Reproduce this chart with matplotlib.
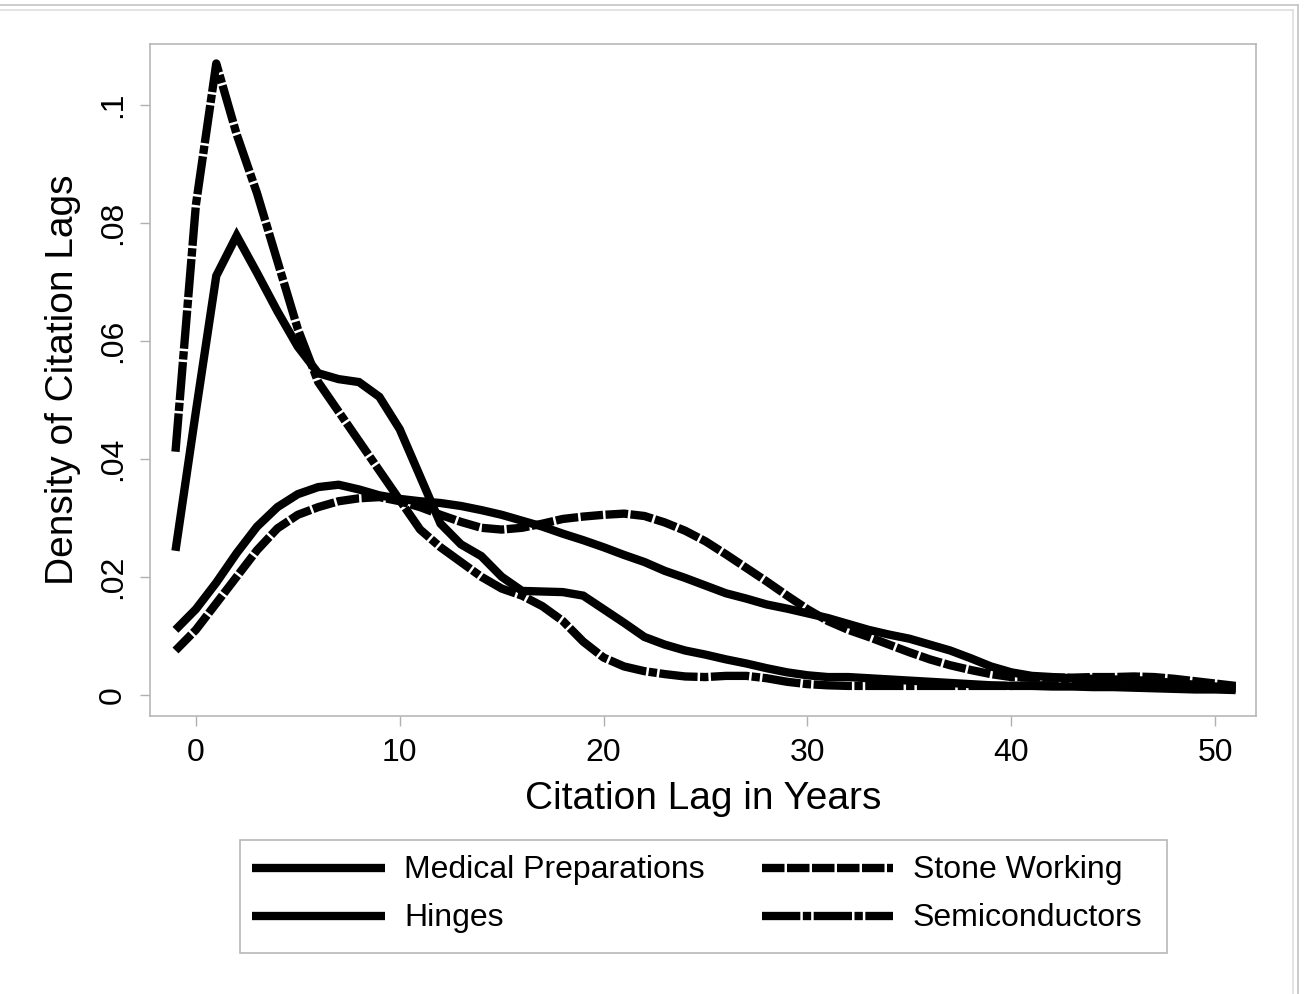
import matplotlib
matplotlib.use("Agg")
import matplotlib.pyplot as plt
from matplotlib.lines import Line2D
from matplotlib.patches import Rectangle

plt.rcParams['font.family'] = ['Liberation Sans', 'DejaVu Sans']

lags = list(range(-1, 52))

medical = [0.0244, 0.048, 0.071, 0.0778, 0.0715, 0.065, 0.059, 0.0545, 0.0535, 0.053,
           0.0505, 0.045, 0.037, 0.029, 0.0255, 0.0235, 0.020, 0.0176, 0.0175, 0.0174,
           0.0168, 0.0145, 0.0122, 0.0098, 0.0085, 0.0075, 0.0068, 0.006, 0.0053, 0.0045,
           0.0038, 0.0033, 0.003, 0.003, 0.0028, 0.0026, 0.0024, 0.0022, 0.002, 0.0018,
           0.0016, 0.0015, 0.0015, 0.0014, 0.0014, 0.0013, 0.0013, 0.0012, 0.0011, 0.001,
           0.0009, 0.0009, 0.0008]

semis = [0.0412, 0.083, 0.107, 0.095, 0.085, 0.0735, 0.062, 0.053, 0.048, 0.043,
         0.038, 0.033, 0.028, 0.025, 0.0225, 0.020, 0.018, 0.0168, 0.015, 0.0125,
         0.009, 0.0063, 0.0048, 0.004, 0.0035, 0.0031, 0.003, 0.0032, 0.0032, 0.0028,
         0.0022, 0.0018, 0.0016, 0.0015, 0.0015, 0.0015, 0.0015, 0.0015, 0.0015, 0.0015,
         0.0015, 0.0015, 0.0016, 0.0016, 0.0016, 0.0016, 0.0016, 0.0015, 0.0014, 0.0013,
         0.0012, 0.0011, 0.001]

hinges = [0.011, 0.0145, 0.019, 0.024, 0.0285, 0.0318, 0.034, 0.0352, 0.0356, 0.0348,
          0.0338, 0.0332, 0.0328, 0.0325, 0.032, 0.0313, 0.0305, 0.0295, 0.0285, 0.0273,
          0.0262, 0.025, 0.0237, 0.0225, 0.021, 0.0198, 0.0185, 0.0172, 0.0163, 0.0153,
          0.0146, 0.0138, 0.013, 0.012, 0.011, 0.0102, 0.0095, 0.0085, 0.0075, 0.0062,
          0.0048, 0.0038, 0.0032, 0.003, 0.0028, 0.0027, 0.0026, 0.0025, 0.0023, 0.002,
          0.0017, 0.0014, 0.0012]

stone = [0.0075, 0.011, 0.0155, 0.020, 0.0245, 0.0282, 0.0305, 0.0318, 0.0328, 0.0333,
         0.0335, 0.0328, 0.0318, 0.0305, 0.0293, 0.0283, 0.028, 0.0283, 0.029, 0.0298,
         0.0302, 0.0305, 0.0307, 0.0303, 0.0292, 0.0278, 0.026, 0.0238, 0.0215, 0.0192,
         0.0168, 0.0145, 0.0125, 0.011, 0.0098, 0.0085, 0.0072, 0.006, 0.005, 0.0042,
         0.0035, 0.003, 0.0029, 0.0029, 0.0029, 0.003, 0.003, 0.0031, 0.003, 0.0027,
         0.0023, 0.0019, 0.0015]

labels = ["Medical Preparations", "Hinges", "Stone Working", "Semiconductors"]
xticks = [0, 10, 20, 30, 40, 50]
yticks = [0, 0.02, 0.04, 0.06, 0.08, 0.1]
ytick_labels = ["0", ".02", ".04", ".06", ".08", ".1"]

W, H = 1306, 994
fig = plt.figure(figsize=(W / 100, H / 100), dpi=100)
fig.patch.set_facecolor("white")


def fx(px):
    return px / W


def fy(py):
    return (H - py) / H


# outer frame lines (top and right only, as in the cropped original)
for (x0, x1, y0, y1, c) in [(0, 1298, 5, 5, "#c4c4c4"), (1298, 1298, 5, H, "#c4c4c4"),
                            (0, 1293, 9.5, 9.5, "#dedede"), (1293, 1293, 9.5, H, "#dedede")]:
    fig.add_artist(Line2D([fx(x0), fx(x1)], [fy(y0), fy(y1)], transform=fig.transFigure,
                          color=c, lw=1.2))

ax = fig.add_axes([fx(150), fy(716), fx(1256) - fx(150), fy(44) - fy(716)])

lw = 6.0
st_med = dict(color="black", lw=lw, linestyle="-", solid_capstyle="butt", solid_joinstyle="miter")
st_hin = dict(color="black", lw=lw, linestyle="-", solid_capstyle="butt", solid_joinstyle="round")
st_sto = dict(color="black", lw=lw, linestyle=(0, (2.7, 0.3)), dash_capstyle="butt")
st_sem = dict(color="black", lw=lw, linestyle=(0, (4.6, 0.3, 1.0, 0.3)), dash_capstyle="butt")

ax.plot(lags, medical, **st_med)
ax.plot(lags, hinges, **st_hin)
ax.plot(lags, stone, **st_sto)
ax.plot(lags, semis, **st_sem)

ax.set_xlim(-2.25, 52.0)
ax.set_ylim(-0.0036, 0.1103)
ax.set_xticks(xticks)
ax.set_xticklabels([str(v) for v in xticks])
ax.set_yticks(yticks)
ax.set_yticklabels(ytick_labels, rotation=90, va="center")
ax.tick_params(axis="both", direction="out", length=7, width=1, color="#b0b0b0",
               labelsize=23, pad=9)
for s in ax.spines.values():
    s.set_color("#b8b8b8")
    s.set_linewidth(1.2)

ax.set_xlabel("Citation Lag in Years", fontsize=28, labelpad=9)
ax.set_ylabel("Density of Citation Lags", fontsize=28, labelpad=12)

# legend drawn in figure coordinates
fig.add_artist(Rectangle((fx(240), fy(953)), fx(1167) - fx(240), fy(840) - fy(953),
                         transform=fig.transFigure, fill=False, edgecolor="#b8b8b8", lw=1.2))
styles = [st_med, st_hin, st_sto, st_sem]
pos = [(252, 385, 404, 868), (252, 385, 404, 916), (762, 893, 913, 868), (762, 893, 913, 916)]
for st, lab, (h0, h1, tx, yy) in zip(styles, labels, pos):
    fig.add_artist(Line2D([fx(h0), fx(h1)], [fy(yy), fy(yy)], transform=fig.transFigure, **st))
    fig.text(fx(tx), fy(yy + 2), lab, fontsize=23, va="center", ha="left")

fig.savefig("out.png", dpi=100, facecolor="white")
